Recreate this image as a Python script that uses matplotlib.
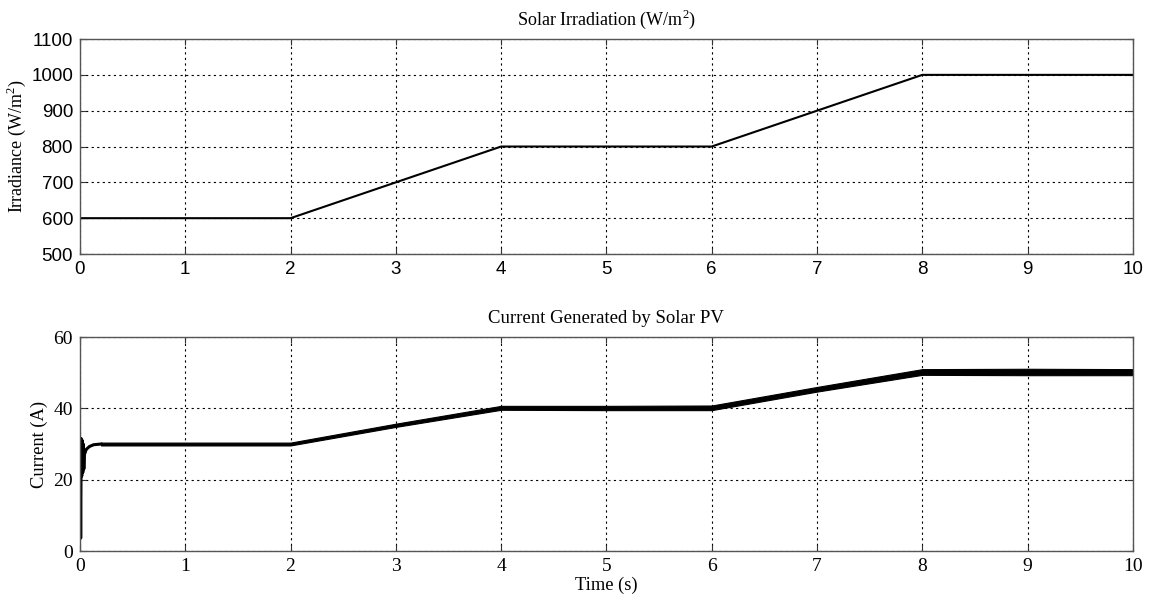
import matplotlib.pyplot as plt
import numpy as np

plt.rcParams['mathtext.fontset'] = 'custom'
plt.rcParams['mathtext.rm'] = 'Liberation Serif'

serif = {'family': 'Liberation Serif'}

# irradiance profile (W/m^2)
t_irr = [0, 2, 4, 6, 8, 10]
irr = [600, 600, 800, 800, 1000, 1000]

# current: start-up transient
t_start = [0.002, 0.007, 0.012, 0.017, 0.022, 0.027, 0.032, 0.037, 0.042, 0.06, 0.09, 0.13, 0.2]
i_start = [31.5, 3.6, 31.5, 21, 31, 22, 30, 23, 27, 28.5, 29.3, 29.8, 30]

# current: ripple band (upper / lower envelope)
t_band = [0.2, 2, 3, 4, 5, 6, 7, 8, 9, 10]
i_upper = [30.4, 30.4, 35.7, 40.7, 40.7, 40.8, 46.0, 51.0, 51.1, 51.0]
i_lower = [29.6, 29.6, 34.8, 39.6, 39.5, 39.5, 44.7, 49.4, 49.3, 49.3]

fig = plt.figure(figsize=(11.52, 5.96), dpi=100)
ax1 = fig.add_axes([0.0694, 0.5738, 0.914, 0.3607])
ax2 = fig.add_axes([0.0694, 0.0755, 0.914, 0.359])

ax1.plot(t_irr, irr, color='black', lw=1.5)
ax1.set_xlim(0, 10)
ax1.set_ylim(500, 1100)
ax1.set_xticks(range(0, 11))
ax1.set_yticks(range(500, 1101, 100))
ax1.set_title(r'Solar Irradiation (W/m$^2$)', fontsize=13, pad=10, **serif)
ax1.set_ylabel(r'Irradiance (W/m$^2$)', fontsize=13, **serif)
ax1.yaxis.set_label_coords(-0.049, 0.5)
for lab in ax1.get_xticklabels() + ax1.get_yticklabels():
    lab.set_family('Liberation Sans')
    lab.set_fontsize(13.5)

ax2.fill_between(t_band, i_lower, i_upper, color='black', lw=0.8, edgecolor='black')
ax2.plot(t_start, i_start, color='black', lw=2.2)
ax2.set_xlim(0, 10)
ax2.set_ylim(0, 60)
ax2.set_xticks(range(0, 11))
ax2.set_yticks(range(0, 61, 20))
ax2.set_title('Current Generated by Solar PV', fontsize=13.5, pad=10, **serif)
ax2.set_ylabel('Current (A)', fontsize=13.3, **serif)
ax2.yaxis.set_label_coords(-0.030, 0.5)
ax2.set_xlabel('Time (s)', fontsize=13.3, labelpad=1, **serif)
for lab in ax2.get_xticklabels() + ax2.get_yticklabels():
    lab.set_family('Liberation Serif')
    lab.set_fontsize(14)

for ax in (ax1, ax2):
    ax.grid(True, color='black', linestyle=(0, (2, 3)), lw=0.8)
    ax.tick_params(direction='in', top=True, right=True, length=4, width=0.8, color='#333333', pad=5)
    for s in ax.spines.values():
        s.set_color('#555555')
        s.set_linewidth(1.0)

fig.savefig('out.png', dpi=100)
